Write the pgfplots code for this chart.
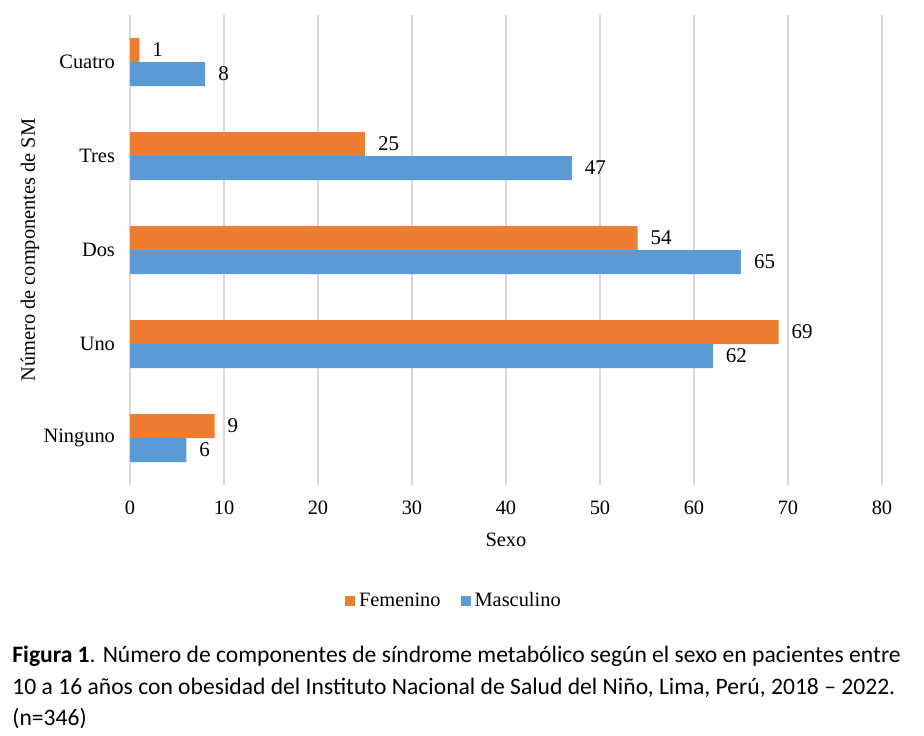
\documentclass[border=0pt]{standalone}
\usepackage{fontspec}
\setmainfont{Liberation Serif}
\newfontfamily\capfont{Carlito}
\usepackage{pgfplots}
\pgfplotsset{compat=1.18}
\definecolor{fem}{HTML}{ED7D31}
\definecolor{mas}{HTML}{5B9BD5}
\definecolor{gridc}{HTML}{D9D9D9}
\begin{document}
\begin{tikzpicture}
\useasboundingbox (0,0) rectangle (462pt,367.5pt);
\begin{axis}[
  at={(65pt,125pt)}, anchor=south west,
  scale only axis, width=376pt, height=235pt,
  xbar, bar width=12pt,
  xmin=0, xmax=80, ymin=-0.5, ymax=4.5,
  xtick={0,10,...,80},
  ytick={0,1,2,3,4},
  yticklabels={Ninguno,Uno,Dos,Tres,Cuatro},
  xmajorgrids=true, grid style={gridc, line width=0.8pt},
  axis line style={draw=none},
  major tick length=0pt,
  tick label style={font=\fontsize{10.2}{12}\selectfont},
  xticklabel style={yshift=-4.5pt},
  yticklabel style={xshift=-4pt},
  /pgf/number format/assume math mode=true,
  xlabel={Sexo},
  ylabel={Número de componentes de SM},
  label style={font=\fontsize{10.2}{12}\selectfont},
  xlabel style={at={(rel axis cs:0.5,-0.117)}, anchor=center},
  ylabel style={at={(rel axis cs:-0.133,0.5)}, anchor=center},
  nodes near coords,
  nodes near coords style={font=\fontsize{10.5}{12}\selectfont, anchor=west, xshift=3pt},
  legend style={at={(rel axis cs:0.432,-0.247)}, anchor=center, draw=none,
    legend columns=2, font=\fontsize{10.2}{12}\selectfont,
    /tikz/every even column/.append style={column sep=8pt}},
  legend image code/.code={\fill[#1] (0pt,-2.5pt) rectangle (5pt,2.5pt);},
]
\addplot[fill=fem, draw=none, bar shift=6pt] coordinates {(9,0) (69,1) (54,2) (25,3) (1,4)};
\addplot[fill=mas, draw=none, bar shift=-6pt] coordinates {(6,0) (62,1) (65,2) (47,3) (8,4)};
\legend{Femenino, Masculino}
\end{axis}
\begin{scope}[every node/.style={anchor=west, inner sep=0pt, font=\capfont\fontsize{11.8}{14}\selectfont}]
\node at (6pt,39.5pt) {\textbf{Figura 1}. Número de componentes de síndrome metabólico según el sexo en pacientes entre};
\node at (6pt,23.5pt) {10 a 16 años con obesidad del Instituto Nacional de Salud del Niño, Lima, Perú, 2018 – 2022.};
\node at (6pt,8.5pt) {(n=346)};
\end{scope}
\end{tikzpicture}
\end{document}
